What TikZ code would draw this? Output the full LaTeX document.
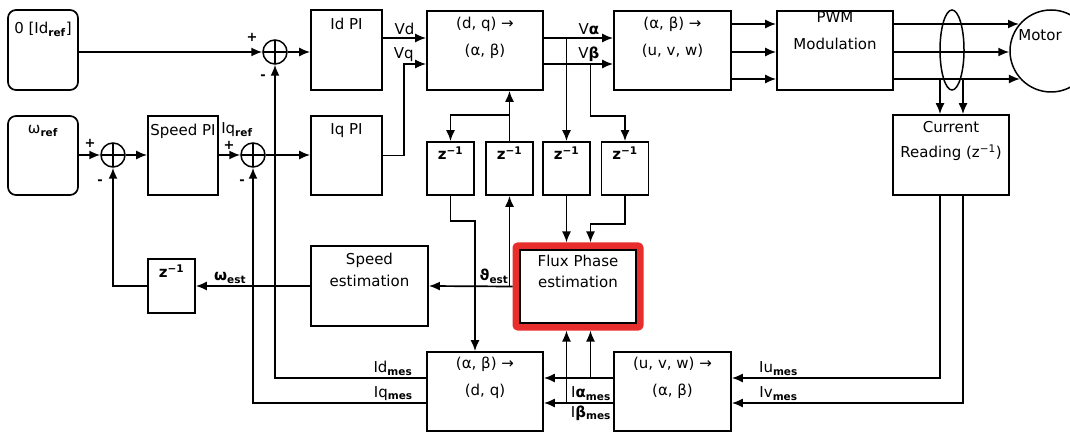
\documentclass[tikz,border=0pt]{standalone}
\usepackage{fontspec}
\setmainfont{DejaVu Sans}
\usetikzlibrary{arrows.meta}
\definecolor{fluxred}{RGB}{232,46,44}
\tikzset{
  blk/.style={draw, line width=1.7pt, inner sep=0pt},
  ttl/.style={anchor=north, align=center, inner sep=0pt, font=\fontsize{15}{27}\selectfont},
  lbl/.style={inner sep=2pt, font=\fontsize{15}{18}\selectfont},
  sgn/.style={inner sep=0pt, font=\bfseries\fontsize{13}{15}\selectfont},
  sumj/.style={circle, draw, line width=1.5pt, minimum size=24pt, inner sep=0pt,
    path picture={\draw[line width=1.5pt] (path picture bounding box.north) -- (path picture bounding box.south)
      (path picture bounding box.west) -- (path picture bounding box.east);}},
  wire/.style={line width=1.7pt, -{Latex[length=11pt,width=9pt]}}
}
\begin{document}
\begin{tikzpicture}[x=1pt, y=-1pt]
\useasboundingbox (0,0) rectangle (1070,435);
\node[blk, rounded corners=8pt, minimum width=70pt, minimum height=80pt,
  label={[ttl,yshift=-13pt]north:{0 [Id\textsubscript{\textbf{ref}}]}}] (refd) at (43,50) {};
\node[blk, rounded corners=8pt, minimum width=70pt, minimum height=79pt,
  label={[ttl,yshift=-10pt]north:{ω\textsubscript{\textbf{ref}}}}] (refw) at (43,155.5) {};
\node[sumj] (sumd) at (275,52) {};
\node[sumj] (sumw) at (113,155) {};
\node[sumj] (sumq) at (253,155) {};
\node[blk, minimum width=71pt, minimum height=80pt,
  label={[ttl,yshift=-8.5pt]north:Id PI}] (idpi) at (346.5,50) {};
\node[blk, minimum width=71pt, minimum height=79pt,
  label={[ttl,yshift=-8.5pt]north:Iq PI}] (iqpi) at (346.5,155.5) {};
\node[blk, minimum width=70pt, minimum height=79pt,
  label={[ttl,yshift=-9pt]north:Speed PI}] (spdpi) at (183,155.5) {};
\node[blk, minimum width=116pt, minimum height=79pt,
  label={[ttl,yshift=-7pt]north:{(d, q) →\\(α, β)}}] (dq2ab) at (485,50.5) {};
\node[blk, minimum width=117pt, minimum height=79pt,
  label={[ttl,yshift=-7pt]north:{(α, β) →\\(u, v, w)}}] (ab2uvw) at (672.5,50.5) {};
\node[blk, minimum width=116pt, minimum height=79pt,
  label={[ttl,yshift=-1.5pt]north:{PWM\\Modulation}}] (pwm) at (835,50.5) {};
\node[circle, draw, line width=1.5pt, minimum size=82pt, inner sep=0pt,
  label={[lbl,xshift=-11pt,yshift=16pt]center:Motor}] (motor) at (1051,51) {};
\node[blk, minimum width=116pt, minimum height=80pt,
  label={[ttl,yshift=-7pt,font=\fontsize{15}{25}\selectfont]north:{Current\\Reading (z\textsuperscript{−1})}}] (cur) at (951,155) {};
\foreach \n/\x in {1/450.5, 2/509.5, 3/566.5, 4/625}
  \node[blk, minimum width=47pt, minimum height=53pt,
    label={[ttl,yshift=-5pt]north:{\textbf{z}\textsuperscript{\textbf{−1}}}}] (z\n) at (\x,168.5) {};
\node[blk, minimum width=47pt, minimum height=54pt,
  label={[ttl,yshift=-6pt]north:{\textbf{z}\textsuperscript{\textbf{−1}}}}] (zw) at (171.5,286) {};
\node[blk, minimum width=117pt, minimum height=80pt,
  label={[ttl,yshift=-8pt,font=\fontsize{15}{22}\selectfont]north:{Speed\\estimation}}] (spdest) at (369.5,286) {};
\node[draw=fluxred, line width=7pt, rounded corners=2pt, minimum width=124pt, minimum height=81pt, inner sep=0pt,
  label={[ttl,yshift=-12.5pt,font=\fontsize{15}{21}\selectfont]north:{Flux Phase\\estimation}}] (flux) at (578,286.5) {};
\draw[line width=1.2pt] ([xshift=7.5pt,yshift=-7.5pt]flux.north west) rectangle ([xshift=-7.5pt,yshift=7.5pt]flux.south east);
\node[blk, minimum width=116pt, minimum height=79pt,
  label={[ttl,yshift=-6pt]north:{(α, β) →\\(d, q)}}] (dq) at (485,391.5) {};
\node[blk, minimum width=117pt, minimum height=79pt,
  label={[ttl,yshift=-6pt]north:{(u, v, w) →\\(α, β)}}] (uvw2ab) at (672.5,391.5) {};
\node[sgn] (pd) at (252,37) {+};
\node[sgn] (md) at (263,77) {-};
\node[sgn] (pw) at (90,143) {+};
\node[sgn] (mw) at (100,182) {-};
\node[sgn] (pq) at (229,145) {+};
\node[sgn] (mq) at (242,182) {-};
\node[lbl] (iqref) at (237,130) {Iq\textsubscript{\textbf{ref}}};
\coordinate (va) at ([yshift=12.5pt]dq2ab.east);
\coordinate (vb) at ([yshift=-13.5pt]dq2ab.east);
\coordinate (fin1) at ([xshift=-11.5pt]flux.north);
\coordinate (fin2) at ([xshift=12.5pt]flux.north);
\coordinate (fout1) at ([xshift=-11.5pt]flux.south);
\coordinate (fout2) at ([xshift=12.5pt]flux.south);
\coordinate (dqin) at ([xshift=-10pt]dq.north);
\coordinate (ph3) at ([yshift=-28.5pt]pwm.east);
\coordinate (cin1) at ([xshift=-11pt]cur.north);
\coordinate (cin2) at ([xshift=12pt]cur.north);
\coordinate (cout1) at ([xshift=-11pt]cur.south);
\coordinate (cout2) at ([xshift=12pt]cur.south);
\coordinate (ia) at ([yshift=13.5pt]uvw2ab.west);
\coordinate (ib) at ([yshift=-11.5pt]uvw2ab.west);
\draw[wire] (refd.east |- sumd) -- (sumd.west);
\draw[wire] (sumd.east) -- (sumd.east -| idpi.west);
\draw[wire] (refw.east |- sumw) -- (sumw.west);
\draw[wire] (sumw.east) -- (sumw.east -| spdpi.west);
\draw[wire] (spdpi.east |- sumq) -- (sumq.west);
\draw[wire] (sumq.east) -- (sumq.east -| iqpi.west);
\draw[wire] ([yshift=12pt]idpi.east) -- node[midway, above, lbl] {Vd} ([yshift=12pt]idpi.east -| dq2ab.west);
\draw[wire] (iqpi.east) -- ++(21,0) |- node[pos=0.5, above, lbl] {Vq} ([yshift=-13.5pt]dq2ab.west);
\draw[wire] (va) -- node[pos=0.65, above, lbl] {V\textbf{α}} (va -| ab2uvw.west);
\draw[wire] (vb) -- node[pos=0.65, above, lbl] {V\textbf{β}} (vb -| ab2uvw.west);
\draw[wire] (va -| z3) -- (z3.north);
\draw[wire] (vb -| fin2) -- ++(0,52) -| (z4.north);
\draw[wire] (z2.north) -- (z2 |- dq2ab.south);
\draw[wire] (z2.north) ++(0,-26) -| (z1.north);
\draw[wire] (z1.south) -- ++(0,25) -| (dqin);
\draw[wire] (z3.south) -- (fin1);
\draw[wire] (z4.south) -- ++(0,28) -| (fin2);
\foreach \s in {26.5,-1.5,-28.5}
  \draw[wire] ([yshift=\s pt]ab2uvw.east) -- ([yshift=\s pt]pwm.west);
\foreach \s/\a in {26.5/140, -1.5/181, -28.5/222}
  \draw[wire] ([yshift=\s pt]pwm.east) -- ([yshift=\s pt]pwm.east -| motor.\a);
\draw[line width=1.5pt] (952,50) ellipse [x radius=12pt, y radius=40pt];
\draw[wire] (cin1 |- ph3) -- (cin1);
\draw[wire] (cin2 |- ph3) -- (cin2);
\draw[wire] (cout1) |- node[pos=0.888, above, lbl] {Iu\textsubscript{\textbf{mes}}} ([yshift=13.5pt]uvw2ab.east);
\draw[wire] (cout2) |- node[pos=0.899, above, lbl] {Iv\textsubscript{\textbf{mes}}} ([yshift=-11.5pt]uvw2ab.east);
\draw[wire] (ia) -- (ia -| dq.east);
\draw[wire] (ib) -- node[pos=0.32, above, lbl] {I\textbf{α}\textsubscript{\textbf{mes}}}
  node[pos=0.32, below, lbl] {I\textbf{β}\textsubscript{\textbf{mes}}} (ib -| dq.east);
\draw[wire] (ia -| fout2) -- (fout2);
\draw[wire] (ib -| fout1) -- (fout1);
\draw[wire] ([yshift=13.5pt]dq.west) -| node[pos=0.11, above, lbl] {Id\textsubscript{\textbf{mes}}} (sumd.south);
\draw[wire] ([yshift=-11.5pt]dq.west) -| node[pos=0.095, above, lbl] {Iq\textsubscript{\textbf{mes}}} (sumq.south);
\draw[wire] (flux.west) -- node[pos=0.22, above, lbl] {\textbf{ϑ}\textsubscript{\textbf{est}}} (spdest.east);
\draw[wire] (z2 |- flux.west) -- (z2.south);
\draw[wire] (spdest.west) -- node[pos=0.7, above, lbl] {\textbf{ω}\textsubscript{\textbf{est}}} (zw.east);
\draw[wire] (zw.west) -| (sumw.south);
\end{tikzpicture}
\end{document}
